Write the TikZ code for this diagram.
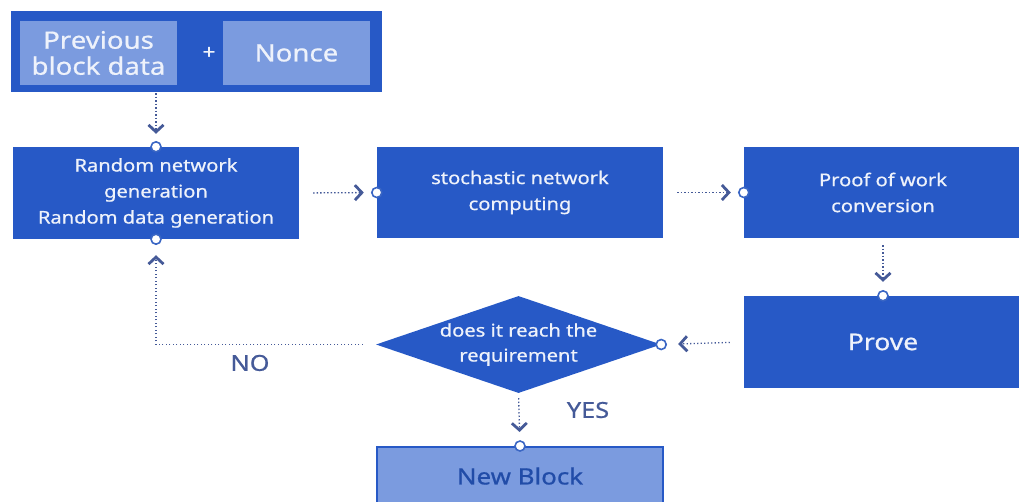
\documentclass[tikz,border=0pt]{standalone}
\usepackage{fontspec}
\setmainfont{Noto Sans}[FakeStretch=1.15, FakeBold=0.7]
\usetikzlibrary{shapes.geometric,arrows.meta}

\definecolor{deepblue}{HTML}{2759C6}
\definecolor{paleblue}{HTML}{7B9BDF}
\definecolor{wireblue}{HTML}{455A98}
\definecolor{portblue}{HTML}{3A66C4}
\definecolor{softwhite}{HTML}{EEF2FB}

\tikzset{
  stepbox/.style={rectangle, fill=deepblue, text=softwhite, inner sep=0pt,
    align=center, font=\fontsize{17.5}{26}\selectfont},
  databox/.style={rectangle, fill=paleblue, text=softwhite, inner sep=0pt,
    align=center, font=\fontsize{24}{26}\selectfont},
  resultbox/.style={rectangle, fill=paleblue, draw=deepblue, line width=2pt,
    text=deepblue!85!black, inner sep=0pt, font=\fontsize{22.5}{24}\selectfont},
  decision/.style={diamond, fill=deepblue, text=softwhite, inner sep=0pt,
    aspect=2.94, align=center, font=\fontsize{17.5}{25}\selectfont},
  port/.style={circle, fill=white, draw=portblue, line width=1.6pt,
    minimum size=10pt, inner sep=0pt},
  link/.style={draw=wireblue, line width=1.3pt, dash pattern=on 1.3pt off 2.2pt,
    -{Straight Barb[length=7pt,width=15pt,line width=2.8pt,color=wireblue]}},
  tag/.style={text=wireblue, font=\fontsize{22}{24}\selectfont}
}

\begin{document}
\begin{tikzpicture}[x=1pt,y=-1pt]
  \useasboundingbox (0,0) rectangle (1019,501);

  % input frame: previous block data + nonce
  \node[fill=deepblue, minimum width=371pt, minimum height=81pt, inner sep=0pt] (input) at (196.5,51.5) {};
  \node[databox, minimum width=157pt, minimum height=64pt] (prev) at (98.5,53) {Previous\\block data};
  \node[text=softwhite, font=\fontsize{20}{22}\selectfont\bfseries] (plus) at (209,53) {+};
  \node[databox, minimum width=147pt, minimum height=64pt] (nonce) at (296.5,53) {Nonce};

  % processing steps
  \node[stepbox, minimum width=286pt, minimum height=92pt] (gen) at (156,193)
    {Random network\\generation\\Random data generation};
  \node[stepbox, minimum width=286pt, minimum height=91pt] (calc) at (520,192.5)
    {stochastic network\\computing};
  \node[stepbox, minimum width=278pt, minimum height=91pt] (pow) at (883,192.5)
    {Proof of work\\conversion};
  \node[stepbox, minimum width=278pt, minimum height=92pt, font=\fontsize{23}{26}\selectfont] (prove) at (883,342) {Prove};

  % decision and result
  \node[decision, minimum width=285pt, minimum height=97pt] (check) at (518.5,344.5)
    {does it reach the\\requirement};
  \node[resultbox, minimum width=286pt, minimum height=58pt] (newblock) at (520,476) {New Block};

  % connectors
  \draw[link, shorten <=1pt, shorten >=13pt] (input.south -| gen.north) -- (gen.north);
  \draw[link, shorten <=14pt, shorten >=13pt] (gen.east) -- (calc.west);
  \draw[link, shorten <=14pt, shorten >=13pt] (calc.west -| calc.east) -- (pow.west);
  \draw[link, shorten <=7pt, shorten >=14pt] (pow.south -| prove.north) -- (prove.north);
  \draw[link, shorten <=14pt, shorten >=17pt] (prove.west) -- (check.east);
  \draw[link, shorten <=13pt, shorten >=16pt] (check.west) -| (gen.south);
  \draw[link, shorten <=5pt, shorten >=14pt] (check.south) -- (newblock.north);

  % connection ports
  \node[port] (p1) at (gen.north) {};
  \node[port] (p2) at (gen.south) {};
  \node[port] (p3) at (calc.west) {};
  \node[port] (p4) at (pow.west) {};
  \node[port] (p5) at (prove.north) {};
  \node[port] (p6) at (check.east) {};
  \node[port] (p7) at (newblock.north) {};

  % branch labels
  \node[tag] (no) at (250,363) {NO};
  \node[tag] (yes) at (588,410) {YES};
\end{tikzpicture}
\end{document}
